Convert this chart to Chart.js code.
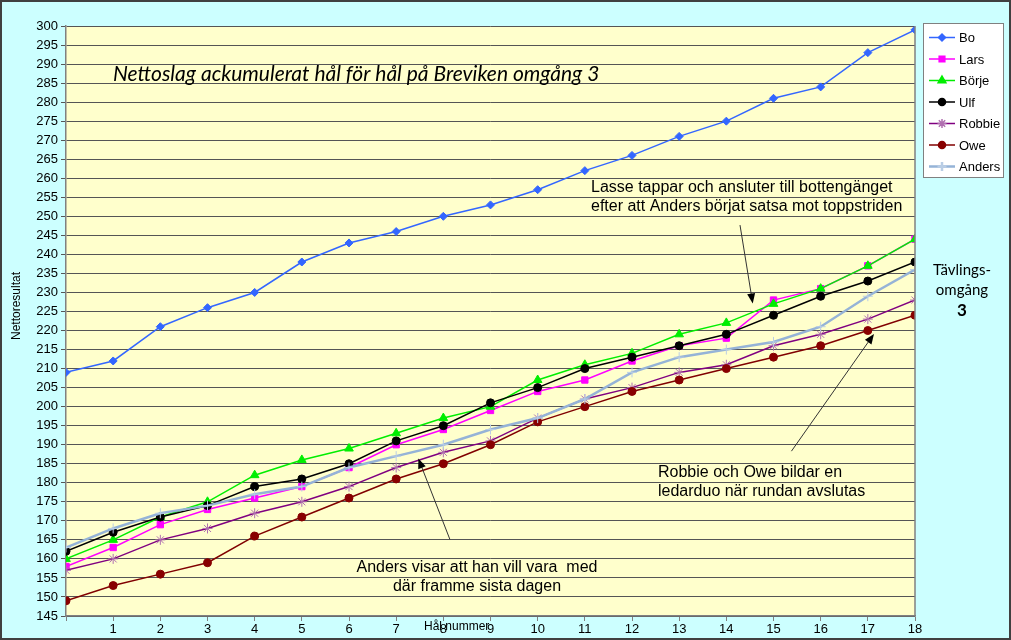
<!DOCTYPE html>
<html>
<head>
<meta charset="utf-8">
<script src="https://cdn.jsdelivr.net/npm/chart.js@4.4.1/dist/chart.umd.min.js"></script>
<style>
  html, body { margin: 0; padding: 0; background: #CCFFFF; }
  canvas { display: block; }
</style>
</head>
<body>
<canvas id="chart" width="1011" height="640"></canvas>
<script>
// holes 0..18
const holes = [0, 1, 2, 3, 4, 5, 6, 7, 8, 9, 10, 11, 12, 13, 14, 15, 16, 17, 18];

const bo     = [209, 212, 221, 226, 230, 238, 243, 246, 250, 253, 257, 262, 266, 271, 275, 281, 284, 293, 299];
const lars   = [158, 163, 169, 173, 176, 179, 184, 190, 194, 199, 204, 207, 212, 216, 218, 228, 231, 237, 244];
const borje  = [160, 165, 171, 175, 182, 186, 189, 193, 197, 200, 207, 211, 214, 219, 222, 227, 231, 237, 244];
const ulf    = [162, 167, 171, 174, 179, 181, 185, 191, 195, 201, 205, 210, 213, 216, 219, 224, 229, 233, 238];
const robbie = [157, 160, 165, 168, 172, 175, 179, 184, 188, 191, 197, 202, 205, 209, 211, 216, 219, 223, 228];
const owe    = [149, 153, 156, 159, 166, 171, 176, 181, 185, 190, 196, 200, 204, 207, 210, 213, 216, 220, 224];
const anders = [163, 168, 172, 174, 177, 179, 184, 187, 190, 194, 197, 202, 209, 213, 215, 217, 221, 229, 236];

const yMin = 145, yMax = 300, yStep = 5;

const series = [
  { name: "Bo",     data: bo,     line: "#3366FF", fill: "#3366FF", style: "rectRot",  r: 4,   w: 1.5 },
  { name: "Lars",   data: lars,   line: "#FF00FF", fill: "#FF00FF", style: "rect",     r: 4.5, w: 1.5 },
  { name: "Börje",  data: borje,  line: "#00EE00", fill: "#00EE00", style: "triangle", r: 5,   w: 1.5 },
  { name: "Ulf",    data: ulf,    line: "#000000", fill: "#000000", style: "circle",   r: 4,   w: 1.5 },
  { name: "Robbie", data: robbie, line: "#800080", fill: "#B070B0", style: "star",     r: 5,   w: 1.5 },
  { name: "Owe",    data: owe,    line: "#800000", fill: "#880000", style: "circle",   r: 4,   w: 1.5 },
  { name: "Anders", data: anders, line: "#95B3D7", fill: "#B9CDE5", style: "cross",    r: 5,   w: 2.5 }
];

// text notes (pixel layout) and arrows (data coords)
const notes = [
  { lines: ["Lasse tappar och ansluter till bottengänget", "efter att Anders börjat satsa mot toppstriden"], x: 591, y: 188, align: "left" },
  { lines: ["Robbie och Owe bildar en", "ledarduo när rundan avslutas"], x: 658, y: 473, align: "left" },
  { lines: ["Anders visar att han vill vara  med", "där framme sista dagen"], x: 477, y: 568, align: "center" }
];
const arrows = [
  { from: [14.29, 247.7], to: [14.56, 227.1] },
  { from: [15.38, 188.3], to: [17.13, 219.1] },
  { from: [8.14, 165.1],  to: [7.47, 186.4] }
];

function drawMarker(ctx, style, x, y, r) {
  ctx.save();
  Chart.helpers.drawPoint(ctx, { pointStyle: style, radius: r, borderWidth: 1 }, x, y);
  ctx.restore();
}

const decor = {
  id: "decor",
  beforeDraw(chart) {
    const { ctx, chartArea: a } = chart;
    ctx.save();
    ctx.fillStyle = "#CCFFFF";
    ctx.fillRect(0, 0, chart.width, chart.height);
    ctx.fillStyle = "#FFFFCC";
    ctx.fillRect(a.left, a.top, a.right - a.left, a.bottom - a.top);
    ctx.restore();
  },
  afterDraw(chart) {
    const { ctx, chartArea: a, scales } = chart;
    const sx = scales.x, sy = scales.y;
    ctx.save();

    // plot frame right side
    ctx.strokeStyle = "#808080";
    ctx.lineWidth = 1.5;
    ctx.beginPath();
    ctx.moveTo(a.right, a.top);
    ctx.lineTo(a.right, a.bottom);
    ctx.stroke();

    // outer border
    ctx.strokeStyle = "#404040";
    ctx.lineWidth = 2;
    ctx.strokeRect(1, 1, chart.width - 2, chart.height - 2);

    // title
    ctx.fillStyle = "#000";
    ctx.font = "italic 21px Lato";
    ctx.textAlign = "left";
    ctx.textBaseline = "middle";
    ctx.fillText("Nettoslag ackumulerat hål för hål på Breviken omgång 3", 113, 74);

    // notes
    ctx.font = "16px 'Liberation Sans'";
    notes.forEach(n => {
      ctx.textAlign = n.align;
      n.lines.forEach((t, i) => ctx.fillText(t, n.x, n.y + i * 19));
    });

    // arrows
    ctx.strokeStyle = "#333";
    ctx.fillStyle = "#000";
    ctx.lineWidth = 1;
    arrows.forEach(ar => {
      const x1 = sx.getPixelForValue(ar.from[0]), y1 = sy.getPixelForValue(ar.from[1]);
      const x2 = sx.getPixelForValue(ar.to[0]),   y2 = sy.getPixelForValue(ar.to[1]);
      const ang = Math.atan2(y2 - y1, x2 - x1);
      ctx.beginPath();
      ctx.moveTo(x1, y1);
      ctx.lineTo(x2 - 6 * Math.cos(ang), y2 - 6 * Math.sin(ang));
      ctx.stroke();
      ctx.beginPath();
      ctx.moveTo(x2, y2);
      ctx.lineTo(x2 - 10 * Math.cos(ang) + 4 * Math.sin(ang), y2 - 10 * Math.sin(ang) - 4 * Math.cos(ang));
      ctx.lineTo(x2 - 10 * Math.cos(ang) - 4 * Math.sin(ang), y2 - 10 * Math.sin(ang) + 4 * Math.cos(ang));
      ctx.closePath();
      ctx.fill();
    });

    // axis titles
    ctx.fillStyle = "#000";
    ctx.font = "12px 'Liberation Sans'";
    ctx.textAlign = "left";
    ctx.fillText("Hål nummer", 424, 627);
    ctx.save();
    ctx.translate(17, 306);
    ctx.rotate(-Math.PI / 2);
    ctx.textAlign = "center";
    ctx.font = "12px 'Liberation Sans'";
    ctx.fillText("Nettoresultat", 0, 0);
    ctx.restore();

    // round label
    ctx.textAlign = "center";
    ctx.font = "15px Lato";
    ctx.fillText("Tävlings-", 962, 270);
    ctx.fillText("omgång", 962, 290);
    ctx.font = "bold 17px Lato";
    ctx.fillText("3", 962, 311);

    // legend
    ctx.fillStyle = "#FFFFFF";
    ctx.fillRect(923, 23, 81, 155);
    ctx.strokeStyle = "#808080";
    ctx.lineWidth = 1;
    ctx.strokeRect(923.5, 23.5, 80, 154);
    ctx.font = "13px 'Liberation Sans'";
    ctx.textAlign = "left";
    series.forEach((s, i) => {
      const y = 37.5 + i * 21.5;
      ctx.strokeStyle = s.line;
      ctx.lineWidth = s.w;
      ctx.beginPath();
      ctx.moveTo(929, y);
      ctx.lineTo(955, y);
      ctx.stroke();
      ctx.fillStyle = s.fill;
      ctx.strokeStyle = s.fill;
      drawMarker(ctx, s.style, 942, y, s.r - 0.5);
      ctx.fillStyle = "#000";
      ctx.fillText(s.name, 959, y + 1);
    });

    ctx.restore();
  }
};

new Chart(document.getElementById("chart"), {
  type: "line",
  data: {
    datasets: series.map((s, i) => ({
      label: s.name,
      data: holes.map((h, k) => ({ x: h, y: s.data[k] })),
      borderColor: s.line,
      backgroundColor: s.fill,
      pointBackgroundColor: s.fill,
      pointBorderColor: s.fill,
      pointStyle: s.style,
      pointRadius: s.r,
      pointBorderWidth: 1,
      borderWidth: s.w,
      tension: 0,
      order: series.length - i
    }))
  },
  options: {
    responsive: false,
    animation: false,
    devicePixelRatio: 1,
    layout: { padding: { left: 0, right: 96, top: 26, bottom: 0 } },
    plugins: {
      legend: { display: false },
      tooltip: { enabled: false }
    },
    scales: {
      x: {
        type: "linear",
        min: holes[0],
        max: holes[holes.length - 1],
        afterFit: s => { s.height = 24; },
        ticks: {
          stepSize: 1,
          color: "#000",
          font: { family: "'Liberation Sans'", size: 13 },
          padding: 1,
          maxRotation: 0,
          callback: v => (v === 0 ? "" : v)
        },
        grid: { drawOnChartArea: false, tickLength: 5, color: "#808080" },
        border: { color: "#808080", width: 1.5 }
      },
      y: {
        min: yMin,
        max: yMax,
        afterFit: s => { s.width = 66; },
        ticks: {
          stepSize: yStep,
          color: "#000",
          font: { family: "'Liberation Sans'", size: 13 },
          padding: 3
        },
        grid: { color: "#555555", lineWidth: 1, tickLength: 5 },
        border: { color: "#808080", width: 1.5 }
      }
    }
  },
  plugins: [decor]
});
</script>
</body>
</html>
